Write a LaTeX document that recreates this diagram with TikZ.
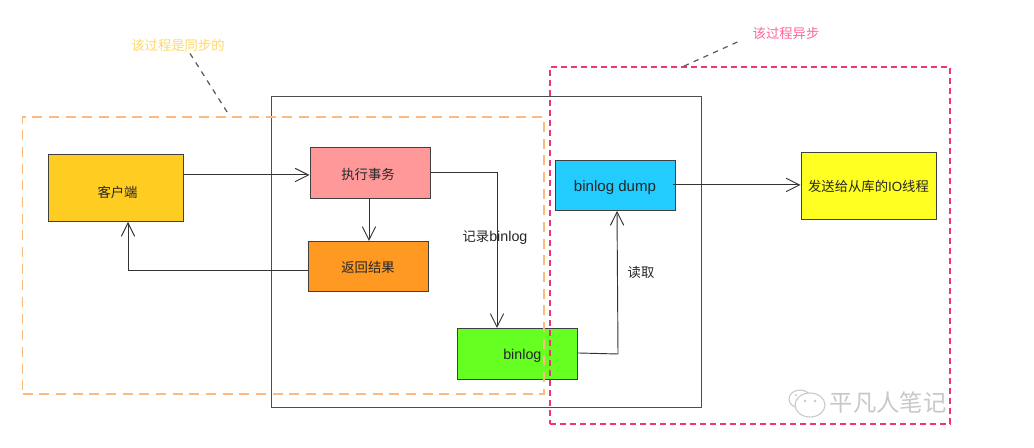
\documentclass[tikz,border=0pt]{standalone}
\usepackage{fontspec}
\setmainfont{Liberation Sans}
\newfontfamily\cjk{Noto Sans CJK SC}
\usetikzlibrary{arrows.meta,calc}
\definecolor{cclient}{HTML}{FFCC22}
\definecolor{cexec}{HTML}{FF9999}
\definecolor{cret}{HTML}{FF9922}
\definecolor{cbin}{HTML}{66FF22}
\definecolor{cdump}{HTML}{22CCFF}
\definecolor{csend}{HTML}{FFFF22}
\definecolor{corangeline}{HTML}{FBBB7C}
\definecolor{cpinkline}{HTML}{EE3377}
\definecolor{csync}{HTML}{FFD966}
\definecolor{casync}{HTML}{FF6699}
\definecolor{cmark}{HTML}{C8C8C8}
\newcommand{\latinfs}{\fontsize{10.7pt}{12pt}\selectfont}
\newcommand{\lowertext}[2]{\raisebox{#1}[0pt][0pt]{#2}}
\tikzset{
  px/.style={x=0.75pt,y=-0.75pt},
  boxnode/.style={draw=black!75,line width=0.75pt,inner sep=0pt,yshift=-0.35pt,font=\fontsize{10pt}{12pt}\selectfont,text=black!85},
  conn/.style={draw=black!80,line width=0.7pt},
  arr/.style={conn,-{Straight Barb[length=10pt,width=10pt,line width=0.7pt]}},
  leader/.style={draw=black!65,line width=0.9pt,dash pattern=on 4pt off 4pt},
  lbl/.style={inner sep=0pt,font=\fontsize{10pt}{12pt}\selectfont,text=black!85},
  region/.style={inner sep=0pt,fill=none},
}
\begin{document}
\begin{tikzpicture}[px]
\useasboundingbox (0,0) rectangle (1034,448);
\fill[white] (0,0) rectangle (1034,448);
% outer box
\node[region,draw=black!70,line width=0.75pt,minimum width=322.5pt,minimum height=233.25pt,yshift=-0.3pt] (server) at (486,251.5) {};
% boxes
\node[boxnode,fill=cclient,minimum width=101.25pt,minimum height=50.25pt] (client) at (115.5,187.5) {\hspace{3pt}\lowertext{-7.35pt}{\cjk 客户端}};
\node[boxnode,fill=cexec,minimum width=90pt,minimum height=38.25pt] (exec) at (370,172.5) {\hspace{-3pt}\lowertext{-4.7pt}{\cjk 执行事务}};
\node[boxnode,fill=cret,minimum width=90pt,minimum height=37.5pt] (ret) at (368,266) {\lowertext{-4.7pt}{\cjk 返回结果}};
\node[boxnode,fill=cbin,minimum width=90pt,minimum height=38.25pt] (bin) at (517,353.5) {\hspace{8pt}\lowertext{-4.4pt}{\latinfs binlog}};
\node[boxnode,fill=cdump,minimum width=90pt,minimum height=37.5pt] (dump) at (615,185) {\lowertext{-4.6pt}{\fontsize{11.3pt}{13pt}\selectfont binlog dump}};
\node[boxnode,fill=csend,minimum width=101.25pt,minimum height=50.25pt] (send) at (868.5,185.5) {{\cjk 发送给从库的}IO{\cjk 线程}};
% connectors
\draw[arr] ($(client.east)+(0,-13)$) -- ($(exec.west)+(0,2)$);
\draw[arr] (exec.south -| 369,0) -- (ret.north -| 369,0);
\draw[arr] ($(ret.west)+(0,4)$) -| ($(client.south)+(12.5,0)$);
\draw[arr] ($(exec.east)+(0,0)$) -| ($(bin.north)+(-20,0)$);
\coordinate (readbend) at (618,354);
\draw[arr] ($(bin.east)+(0,-1)$) -- (readbend) -- ($(dump.south)+(2,0)$);
\draw[arr] ($(dump.east)+(-3,-0.5)$) -- ($(send.west)+(0,-1)$);
% connector labels
\node[lbl,fill=none] (lrec) at (495,238) {{\cjk 记录}{\latinfs binlog}};
\node[lbl] (lread) at (641,272) {\cjk 读取};
% dashed regions
\node[region,draw=corangeline,line width=0.95pt,dash pattern=on 7.5pt off 5pt,minimum width=391.1pt,minimum height=207.75pt] (sync) at (283.25,255.5) {};
\node[region,draw=cpinkline,line width=1.7pt,dash pattern=on 4.2pt off 3.3pt,minimum width=300pt,minimum height=267.75pt] (async) at (750,245.5) {};
% notes
\node[lbl,text=csync] (tsync) at (178,45) {\cjk 该过程是同步的};
\node[lbl,text=casync] (tasync) at (786,33) {\cjk 该过程异步};
\coordinate (syncend) at (229,115);
\coordinate (asyncend) at (682,67);
\draw[leader] ($(tsync.south)+(12,2)$) -- (syncend);
\draw[leader] ($(tasync.west)+(-15,9)$) -- (asyncend);
% watermark
\node[inner sep=0pt,text=cmark,font=\fontsize{17.5pt}{20pt}\selectfont] (mark) at (888,403) {\cjk 平凡人笔记};
\draw[cmark,line width=0.8pt,fill=white] (800,399) ellipse (11 and 9);
\draw[cmark,line width=0.8pt,fill=white] (810,405) ellipse (15 and 12);
\fill[cmark] (805,401) circle (1.3) (815,401) circle (1.3) (796,395) circle (1.1);
\end{tikzpicture}
\end{document}
